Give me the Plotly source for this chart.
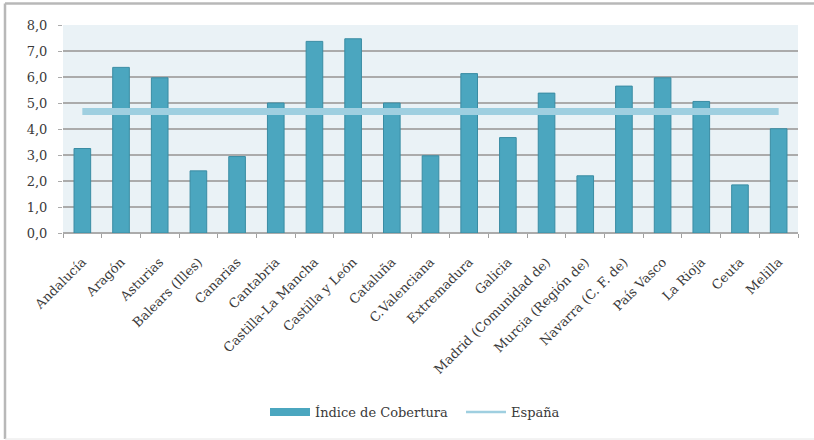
import plotly.graph_objects as go

# Índice de cobertura por comunidad autónoma
regiones = [
    "Andalucía", "Aragón", "Asturias", "Balears (Illes)", "Canarias", "Cantabria",
    "Castilla-La Mancha", "Castilla y León", "Cataluña", "C.Valenciana", "Extremadura",
    "Galicia", "Madrid (Comunidad de)", "Murcia (Región de)", "Navarra (C. F. de)",
    "País Vasco", "La Rioja", "Ceuta", "Melilla",
]
indice = [3.25, 6.37, 5.97, 2.39, 2.94, 5.0, 7.37, 7.47, 5.0, 2.97, 6.13,
          3.67, 5.38, 2.2, 5.65, 5.97, 5.06, 1.85, 4.01]
espana = 4.67
y_ticks = [0, 1, 2, 3, 4, 5, 6, 7, 8]

FONT = "DejaVu Serif"
TXT = "#3A3A3A"
BAR = "#4BA6BF"
LINE = "#9FCFE0"

fig = go.Figure()
fig.add_trace(go.Bar(
    x=regiones, y=indice, name="Índice de Cobertura", showlegend=False,
    marker=dict(color=BAR, line=dict(color="#3A8CA3", width=1)),
))
fig.add_trace(go.Scatter(
    x=regiones, y=[espana] * len(regiones), mode="lines", name="España",
    line=dict(color=LINE, width=7), showlegend=False,
))
# legend samples: wide block for the bars, thin line for España
fig.add_trace(go.Scatter(
    x=[None], y=[None], mode="lines", name="Índice de Cobertura",
    line=dict(color=BAR, width=8),
))
fig.add_trace(go.Scatter(
    x=[None], y=[None], mode="lines", name="España",
    line=dict(color=LINE, width=2.5),
))

# plot area in pixels: left 63, right 798, top 25, bottom 233
W, H = 814, 440
L, R, T, B = 63, 798, 25, 233
pw, ph = R - L, B - T

def px(x):
    return (x - L) / pw

def py(y):
    return (B - y) / ph

shapes = [
    dict(type="line", xref="paper", yref="paper", x0=px(5), x1=px(5), y0=py(3.5), y1=py(439),
         line=dict(color="#B8B8B8", width=2.5)),
    dict(type="line", xref="paper", yref="paper", x0=px(5), x1=px(820), y0=py(3.5), y1=py(3.5),
         line=dict(color="#B8B8B8", width=2.5)),
    dict(type="line", xref="paper", yref="paper", x0=px(5), x1=px(820), y0=py(439), y1=py(439),
         line=dict(color="#E6E6E6", width=1)),
]

fig.update_layout(
    width=W, height=H,
    margin=dict(l=L, r=W - R, t=T, b=H - B, pad=0),
    paper_bgcolor="white", plot_bgcolor="#EAF2F6",
    separators=",.",
    font=dict(family=FONT, size=13, color=TXT),
    bargap=0.57,
    shapes=shapes,
    showlegend=True,
    legend=dict(orientation="h", x=px(265), xanchor="left", y=py(412), yanchor="middle",
                font=dict(family=FONT, size=13, color=TXT), itemwidth=40,
                entrywidth=141, entrywidthmode="pixels",
                bgcolor="rgba(0,0,0,0)"),
    xaxis=dict(
        tickangle=-45, ticks="outside", tickson="boundaries", ticklen=4,
        tickcolor="#A0A0A0", showgrid=False, showline=False, ticklabelstandoff=18,
        tickfont=dict(family=FONT, size=13, color=TXT), fixedrange=True,
    ),
    yaxis=dict(
        range=[0, 8], tickvals=y_ticks, tickformat=".1f",
        showgrid=True, gridcolor="#ABABAB", gridwidth=1.5,
        zeroline=True, zerolinecolor="#ABABAB", zerolinewidth=1.5,
        ticks="outside", ticklen=4, tickcolor="#ABABAB", ticklabelstandoff=8,
        tickfont=dict(family=FONT, size=13, color=TXT),
    ),
)

fig.write_html("out.html")
